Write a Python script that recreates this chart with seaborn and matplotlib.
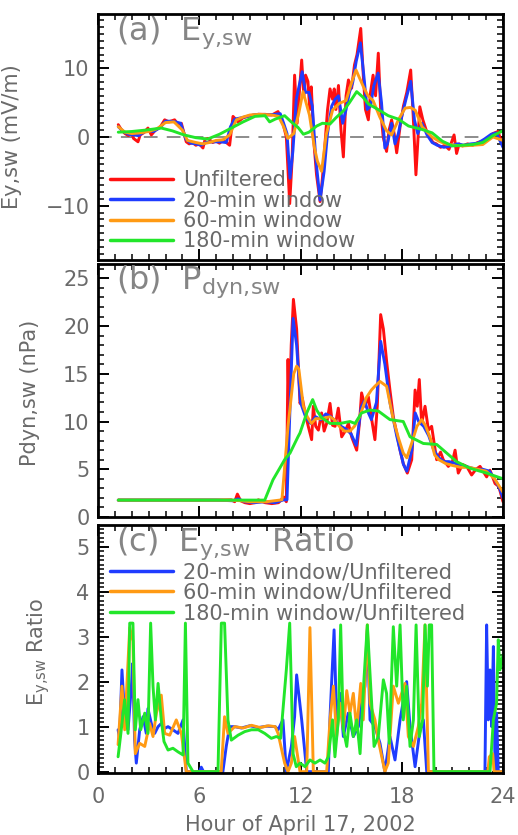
import numpy as np
import pandas as pd
import matplotlib
matplotlib.use("Agg")
import matplotlib.pyplot as plt
from matplotlib.lines import Line2D
from matplotlib.ticker import MultipleLocator
import seaborn as sns

# ---------------- data ----------------
# Panel (a): Ey,sw (mV/m)
ey_unf_t = [1.2, 1.4, 1.6, 1.8, 2.0, 2.1, 2.37, 2.5, 2.7, 2.96, 3.16, 3.4, 3.7, 3.95, 4.2, 4.54, 4.75, 4.94,
            5.23, 5.4, 5.6, 5.8, 6.0, 6.22, 6.35, 6.52, 6.8, 7.0, 7.2, 7.4, 7.6, 7.8, 8.0, 8.3, 8.6, 8.9,
            9.2, 9.5, 9.9, 10.3, 10.67, 10.96, 11.16, 11.36, 11.5, 11.65, 11.8, 12.07, 12.2, 12.3, 12.44,
            12.55, 12.64, 12.8, 12.95, 13.16, 13.3, 13.45, 13.6, 13.75, 13.9, 14.0, 14.1, 14.25, 14.4,
            14.54, 14.7, 14.84, 15.03, 15.2, 15.35, 15.57, 15.72, 15.85, 16.02, 16.15, 16.3, 16.45,
            16.61, 16.75, 16.9, 17.1, 17.25, 17.4, 17.55, 17.7, 17.9, 18.1, 18.3, 18.53, 18.68, 18.84,
            19.07, 19.25, 19.45, 19.65, 19.85, 20.05, 20.3, 20.55, 20.8, 21.1, 21.25, 21.4, 21.6,
            21.9, 22.2, 22.5, 22.8, 23.1, 23.4, 23.7, 24.0]
ey_unf_v = [1.8, 1.0, 0.5, 0.2, 0.7, -0.2, -0.7, 0.3, 0.6, 1.3, 0.3, 1.0, 1.5, 2.5, 2.2, 2.5, 1.8, 2.0,
            -0.7, -1.0, -0.8, -1.2, -1.0, -1.6, -0.3, -0.2, -0.8, -0.6, -0.9, -0.5, -0.8, -1.2, 3.0, 2.2,
            2.8, 3.0, 3.2, 3.3, 3.3, 3.2, 3.7, 2.0, 0.0, -9.7, -3.4, 9.0, 2.0, 11.2, 6.0, 9.0, 8.1, 4.0,
            7.3, -1.0, -5.5, -9.4, -6.0, -1.0, 3.9, 7.0, 5.5, 7.0, 4.0, 7.5, 1.0, -2.9, 6.0, 8.3, 7.1,
            10.5, 12.0, 15.8, 9.0, 4.0, 2.5, 6.5, 9.0, 6.0, 12.2, 4.0, 0.0, -2.1, 1.0, 2.5, 0.5, -2.3,
            1.5, 4.5, 6.5, 9.75, 3.0, -5.5, 4.4, 2.5, 1.0, 0.0, -0.8, -1.0, -1.5, -1.2, -1.8, 0.3, -2.4,
            -1.0, -1.3, -1.0, -1.2, -0.8, -0.6, -0.2, 0.5, 0.8, -1.3]

ey_20_t = [1.2, 1.5, 1.8, 2.1, 2.4, 2.7, 3.0, 3.3, 3.7, 4.0, 4.3, 4.6, 4.9, 5.2, 5.5, 5.8, 6.1, 6.4,
           6.8, 7.2, 7.6, 7.85, 8.1, 8.5, 9.0, 9.5, 10.0, 10.5, 10.8, 11.0, 11.2, 11.38, 11.55, 11.75,
           12.1, 12.3, 12.5, 12.7, 12.9, 13.16, 13.4, 13.6, 13.85, 14.05, 14.25, 14.5, 14.7, 14.9,
           15.1, 15.3, 15.55, 15.75, 15.95, 16.15, 16.35, 16.6, 16.8, 17.0, 17.15, 17.4, 17.6, 17.8,
           18.0, 18.25, 18.53, 18.75, 18.95, 19.2, 19.5, 19.8, 20.1, 20.5, 20.9, 21.3, 21.7, 22.1,
           22.5, 22.9, 23.3, 23.6, 24.0]
ey_20_v = [1.5, 0.8, 0.4, 0.3, 0.2, 0.7, 0.9, 0.8, 1.4, 2.3, 2.3, 2.2, 2.0, -0.3, -0.9, -1.0, -1.2,
           -0.8, -0.7, -0.7, -0.8, 1.5, 2.6, 2.8, 3.1, 3.3, 3.2, 3.3, 3.4, 2.0, 0.5, -6.0, -2.0, 5.5,
           9.5, 6.5, 6.5, 4.5, -3.0, -9.2, -5.0, 0.5, 4.5, 5.5, 6.0, 2.0, 4.0, 6.5, 8.0, 11.0, 13.7,
           9.0, 4.0, 4.5, 7.5, 9.3, 5.0, -1.6, -1.0, 2.0, -1.0, 0.5, 3.0, 5.5, 8.1, 2.5, 0.5, 2.0,
           0.3, -0.8, -1.2, -1.5, -1.3, -1.0, -1.2, -1.0, -0.9, -0.3, 0.4, 0.6, -1.5]

ey_60_t = [1.2, 1.6, 2.0, 2.5, 3.0, 3.5, 4.0, 4.5, 5.0, 5.3, 5.8, 6.2, 6.6, 7.0, 7.4, 7.8, 8.2, 8.6,
           9.0, 9.6, 10.3, 10.7, 11.0, 11.25, 11.6, 11.9, 12.15, 12.53, 12.83, 13.0, 13.25, 13.52,
           13.9, 14.3, 14.7, 15.0, 15.29, 15.73, 16.0, 16.3, 16.7, 17.1, 17.4, 17.8, 18.2, 18.5,
           18.8, 19.2, 19.8, 20.2, 20.6, 21.1, 21.6, 22.2, 22.8, 23.4, 24.0]
ey_60_v = [1.5, 0.7, 0.5, 0.6, 0.8, 1.2, 2.1, 2.2, 1.0, -0.5, -0.8, -1.0, -0.8, -0.5, -0.4, 0.3,
           2.5, 2.9, 3.2, 3.3, 3.2, 3.0, 1.5, -0.2, 0.5, 3.5, 6.6, 3.2, -1.6, -3.5, -5.0, 0.3, 3.9,
           4.9, 5.3, 7.7, 9.75, 7.3, 6.0, 5.3, 2.9, 0.9, 0.3, 2.5, 4.2, 4.3, 3.9, 1.5, 0.0, -0.6,
           -1.0, -1.2, -1.3, -1.2, -1.1, 0.0, -0.5]

ey_180_t = [1.2, 2.0, 2.8, 3.75, 4.4, 5.1, 5.8, 6.5, 7.2, 7.9, 8.6, 9.3, 9.9, 10.17, 10.5, 11.06,
            11.45, 11.85, 12.17, 12.5, 12.96, 13.3, 13.75, 14.1, 14.54, 14.9, 15.33, 15.7, 16.03,
            16.6, 17.2, 17.8, 18.4, 19.2, 19.8, 20.4, 21.0, 21.6, 22.2, 22.8, 23.4, 24.0]
ey_180_v = [0.7, 0.8, 1.0, 1.3, 0.9, 0.3, -0.1, -0.3, 0.4, 1.3, 2.2, 3.0, 3.1, 2.2, 2.6, 3.1, 2.2,
            1.4, 0.4, 0.7, 1.6, 2.0, 1.9, 2.8, 3.8, 5.0, 6.6, 5.8, 4.8, 4.0, 3.1, 2.6, 1.6, 1.1, 0.6,
            -0.6, -1.3, -1.2, -1.1, -0.8, 0.2, 0.9]

# Panel (b): Pdyn,sw (nPa)
pd_unf_t = [1.2, 3.0, 5.0, 7.0, 7.9, 8.1, 8.26, 8.45, 8.7, 9.0, 9.3, 9.5, 9.9, 10.3, 10.7, 11.0,
            11.16, 11.26, 11.33, 11.45, 11.58, 11.77, 11.97, 12.1, 12.27, 12.46, 12.66, 12.76, 12.9,
            13.06, 13.25, 13.4, 13.55, 13.75, 13.9, 14.05, 14.24, 14.44, 14.65, 14.84, 15.03, 15.33,
            15.5, 15.62, 15.82, 16.02, 16.22, 16.41, 16.55, 16.75, 16.91, 17.11, 17.3, 17.5, 17.7,
            17.9, 18.09, 18.33, 18.59, 18.79, 18.92, 19.04, 19.18, 19.38, 19.58, 19.77, 20.07,
            20.3, 20.46, 20.76, 21.0, 21.16, 21.35, 21.6, 21.85, 22.14, 22.4, 22.64, 23.03, 23.23,
            23.53, 23.75, 24.0]
pd_unf_v = [1.77, 1.77, 1.77, 1.77, 1.8, 1.6, 2.4, 1.7, 1.5, 1.4, 1.5, 1.8, 1.5, 1.4, 1.5, 2.1,
            1.6, 16.5, 10.0, 18.0, 22.8, 19.7, 11.9, 12.5, 10.9, 9.5, 8.1, 11.6, 9.5, 9.1, 10.9, 9.0,
            9.8, 11.9, 9.6, 9.5, 11.4, 8.4, 9.0, 9.8, 8.4, 7.0, 10.0, 13.0, 11.6, 12.6, 10.2, 8.1,
            11.6, 21.2, 19.7, 16.2, 13.3, 10.5, 8.8, 7.0, 5.6, 4.6, 6.0, 13.3, 11.6, 14.4, 9.8,
            11.6, 9.1, 9.5, 6.0, 6.8, 6.0, 5.3, 5.8, 7.0, 4.6, 5.5, 5.3, 4.4, 5.0, 5.3, 4.2, 4.9,
            3.5, 3.2, 1.6]

pd_20_t = [1.2, 3.0, 5.0, 7.0, 8.0, 8.3, 8.7, 9.3, 9.9, 10.5, 11.0, 11.2, 11.35, 11.56, 11.77,
           12.0, 12.3, 12.6, 12.9, 13.2, 13.5, 13.8, 14.1, 14.4, 14.7, 15.0, 15.3, 15.6, 15.8, 16.0,
           16.2, 16.5, 16.75, 17.0, 17.3, 17.7, 18.1, 18.3, 18.6, 18.8, 19.0, 19.3, 19.6, 19.9,
           20.2, 20.5, 20.8, 21.2, 21.6, 22.0, 22.4, 22.8, 23.2, 23.5, 23.8, 24.0]
pd_20_v = [1.77, 1.77, 1.77, 1.77, 1.7, 1.9, 1.6, 1.5, 1.6, 1.5, 1.8, 1.8, 10.0, 20.8, 18.0, 12.0,
           10.5, 9.8, 10.5, 10.2, 10.8, 10.5, 10.0, 9.5, 9.2, 8.7, 7.5, 11.5, 12.2, 11.0, 10.2,
           12.0, 18.4, 16.0, 12.0, 8.5, 5.5, 4.8, 7.0, 10.9, 10.0, 9.5, 8.5, 7.0, 6.2, 5.8, 5.8,
           5.6, 5.4, 5.2, 5.0, 5.0, 4.8, 4.0, 3.0, 2.0]

pd_60_t = [1.2, 3.0, 5.0, 7.0, 8.0, 8.5, 9.0, 10.0, 10.9, 11.26, 11.6, 11.77, 11.9, 12.17, 12.4,
           12.65, 12.9, 13.2, 13.75, 14.0, 14.3, 14.6, 14.93, 15.2, 15.5, 15.72, 15.9, 16.2, 16.41,
           16.71, 17.1, 17.5, 17.8, 18.09, 18.3, 18.6, 18.9, 19.18, 19.4, 19.7, 19.95, 20.2, 20.6,
           21.0, 21.5, 22.0, 22.5, 23.0, 23.5, 24.0]
pd_60_v = [1.77, 1.77, 1.77, 1.77, 1.75, 1.7, 1.6, 1.6, 1.8, 9.5, 15.0, 15.8, 15.5, 11.6, 10.5,
           9.8, 10.3, 10.3, 10.5, 10.2, 9.5, 9.0, 9.0, 9.5, 10.5, 11.6, 12.5, 13.3, 13.7, 14.2,
           13.7, 10.2, 8.3, 6.7, 6.2, 7.8, 9.5, 10.2, 9.6, 8.2, 6.5, 6.0, 5.6, 5.4, 5.2, 5.2, 5.0,
           4.8, 4.0, 2.6]

pd_180_t = [1.2, 3.0, 5.0, 7.0, 9.0, 9.88, 10.37, 11.06, 11.38, 11.85, 11.97, 12.37, 12.72, 12.96,
            13.25, 13.75, 14.34, 14.93, 15.23, 15.62, 16.12, 16.61, 17.3, 18.09, 18.49, 19.28,
            20.07, 20.66, 21.25, 22.05, 23.03, 24.0]
pd_180_v = [1.77, 1.77, 1.77, 1.77, 1.77, 1.77, 3.9, 6.0, 6.7, 8.4, 8.8, 10.9, 12.3, 11.2, 10.4,
            9.8, 9.8, 10.0, 9.8, 10.9, 11.2, 11.1, 10.2, 10.0, 8.4, 7.7, 7.6, 6.7, 5.8, 5.1, 4.6,
            4.0]

# Panel (c): Ey,sw ratio (filtered / unfiltered), clipped at 3.3
r20_t = [1.19, 1.28, 1.42, 1.58, 1.78, 1.98, 2.05, 2.17, 2.27, 2.47, 2.67, 2.86, 2.96, 3.16, 3.36,
         3.56, 3.75, 3.95, 4.15, 4.44, 4.74, 5.04, 5.23, 6.0, 6.12, 6.25, 7.4, 7.6, 7.8, 8.1, 8.5,
         9.0, 9.5, 10.0, 10.5, 10.67, 10.96, 11.16, 11.46, 11.65, 11.77, 12.07, 12.37, 13.65,
         13.75, 13.99, 14.14, 14.34, 14.54, 14.83, 15.13, 15.43, 15.62, 15.82, 15.96, 16.12, 16.41,
         16.71, 17.0, 17.3, 17.6, 17.9, 18.29, 18.49, 18.79, 19.08, 19.28, 19.48, 22.93, 23.03,
         23.13, 23.23, 23.33, 23.43, 23.53, 23.62, 23.72, 24.0]
r20_v = [0.93, 0.74, 2.26, 1.22, 0.93, 1.9, 2.4, 0.7, 0.19, 0.93, 1.22, 0.85, 1.4, 1.07, 0.85, 1.0,
         1.07, 0.96, 1.0, 0.93, 0.85, 1.15, 0.0, 0.0, 0.1, 0.0, 0.0, 0.56, 1.0, 1.0, 0.97, 1.02,
         0.98, 1.01, 1.0, 0.93, 1.15, 0.0, 0.56, 1.22, 2.15, 1.15, 0.0, 0.0, 1.22, 3.15, 1.15, 1.74,
         0.78, 1.3, 0.78, 1.0, 1.52, 1.9, 3.15, 1.15, 1.0, 0.63, 0.0, 0.78, 0.26, 1.15, 2.0, 1.0,
         0.11, 0.93, 1.15, 0.0, 0.0, 3.26, 1.15, 2.26, 1.0, 2.78, 0.0, 1.3, 0.0, 0.0]

r60_t = [1.19, 1.42, 1.58, 1.88, 2.07, 2.21, 2.47, 2.77, 3.06, 3.26, 3.46, 3.75, 3.95, 4.25, 4.64,
         4.94, 5.23, 7.3, 7.5, 7.7, 8.1, 8.6, 9.1, 9.6, 10.1, 10.5, 10.67, 11.06, 11.26, 11.46,
         11.65, 11.97, 12.37, 12.56, 12.76, 13.55, 13.75, 13.95, 14.14, 14.34, 14.54, 14.74, 14.93,
         15.13, 15.33, 15.57, 15.72, 15.96, 16.12, 16.41, 16.61, 17.0, 17.2, 17.5, 17.8, 18.19,
         18.39, 18.69, 18.98, 19.18, 19.38, 19.58, 23.1, 23.19, 23.39, 23.47, 24.0]
r60_v = [0.6, 1.9, 0.93, 3.2, 2.9, 0.4, 0.63, 0.56, 1.07, 0.78, 1.3, 1.7, 0.85, 0.81, 1.15, 0.85,
         0.0, 0.0, 1.22, 0.85, 1.0, 0.97, 1.03, 0.98, 1.02, 1.0, 0.85, 0.19, 0.0, 0.19, 0.78, 0.0,
         0.0, 3.2, 0.0, 0.0, 1.15, 1.9, 0.78, 1.52, 0.93, 1.8, 1.3, 1.74, 0.93, 1.96, 1.15, 3.26,
         1.52, 1.15, 0.7, 0.0, 0.19, 1.9, 1.52, 1.96, 0.78, 0.56, 1.0, 1.52, 3.26, 0.0, 0.0, 0.33,
         0.4, 0.0, 0.0]

r180_t = [1.19, 1.38, 1.58, 1.78, 1.88, 2.07, 2.21, 2.37, 2.53, 2.77, 2.96, 3.12, 3.26, 3.4, 3.56,
          3.75, 3.91, 4.15, 4.44, 4.74, 5.04, 5.18, 5.33, 5.63, 7.11, 7.31, 7.5, 7.7, 7.9, 8.3, 8.7,
          9.09, 9.5, 9.88, 10.27, 10.57, 10.82, 10.96, 11.16, 11.36, 11.56, 11.75, 11.97, 12.27,
          12.56, 12.86, 13.16, 13.45, 13.65, 13.9, 14.04, 14.24, 14.38, 14.54, 14.74, 14.93, 15.13,
          15.33, 15.53, 15.76, 15.96, 16.16, 16.36, 16.61, 16.91, 17.1, 17.26, 17.5, 17.7, 17.9,
          18.09, 18.29, 18.49, 18.69, 18.85, 19.04, 19.24, 19.38, 19.52, 19.63, 19.77, 19.91, 23.23,
          23.43, 23.62, 23.72, 23.82, 24.0]
r180_v = [0.33, 0.93, 1.6, 0.85, 3.3, 3.3, 0.93, 1.6, 0.93, 1.3, 0.85, 3.3, 1.9, 1.15, 1.96, 1.15,
          0.67, 0.48, 0.52, 0.44, 0.37, 3.3, 0.19, 0.0, 0.0, 3.3, 3.3, 1.15, 0.7, 0.81, 0.89, 0.93,
          0.93, 0.85, 0.74, 0.78, 0.74, 1.37, 2.26, 3.3, 0.4, 0.11, 0.19, 0.11, 0.26, 0.19, 0.26,
          0.19, 0.33, 1.15, 0.33, 1.15, 3.26, 0.93, 0.56, 1.3, 0.78, 1.15, 0.4, 2.04, 3.26, 1.9,
          0.56, 0.78, 2.04, 1.74, 0.63, 3.22, 1.9, 3.26, 1.15, 1.9, 0.56, 1.15, 3.26, 0.78, 1.15,
          3.26, 1.9, 3.26, 3.26, 0.0, 0.0, 1.15, 1.52, 2.93, 2.26, 2.6]

hour_ticks = [0, 6, 12, 18, 24]
labels_a = ["Unfiltered", "20-min window", "60-min window", "180-min window"]
labels_c = ["20-min window/Unfiltered", "60-min window/Unfiltered", "180-min window/Unfiltered"]

RED, BLUE, ORANGE, GREEN = "#ff1010", "#1f3cff", "#ff9a14", "#22e62a"
TXT = "#6a6a6a"
TTL = "#858585"


def long_df(pairs, names):
    frames = []
    for (t, v), n in zip(pairs, names):
        frames.append(pd.DataFrame({"hour": t, "value": v, "series": n}))
    return pd.concat(frames, ignore_index=True)


df_a = long_df([(ey_unf_t, ey_unf_v), (ey_20_t, ey_20_v), (ey_60_t, ey_60_v), (ey_180_t, ey_180_v)], labels_a)
df_b = long_df([(pd_unf_t, pd_unf_v), (pd_20_t, pd_20_v), (pd_60_t, pd_60_v), (pd_180_t, pd_180_v)], labels_a)
df_c = long_df([(r20_t, r20_v), (r60_t, r60_v), (r180_t, r180_v)], labels_c)

pal_a = dict(zip(labels_a, [RED, BLUE, ORANGE, GREEN]))
pal_c = dict(zip(labels_c, [BLUE, ORANGE, GREEN]))

sns.set_theme(style="white")
plt.rcParams["font.family"] = ["DejaVu Sans"]
plt.rcParams["mathtext.default"] = "regular"

fig = plt.figure(figsize=(5.18, 8.35), dpi=100)
W, H = 518.0, 835.0
L, R = 98.0, 503.0
ax_a = fig.add_axes([L / W, 1 - 260 / H, (R - L) / W, (260 - 14) / H])
ax_b = fig.add_axes([L / W, 1 - 517 / H, (R - L) / W, (517 - 264) / H])
ax_c = fig.add_axes([L / W, 1 - 773 / H, (R - L) / W, (773 - 525) / H])

LW = 2.1
sns.lineplot(data=df_a, x="hour", y="value", hue="series", hue_order=labels_a, palette=pal_a,
             estimator=None, sort=False, linewidth=LW, legend=False, ax=ax_a)
sns.lineplot(data=df_b, x="hour", y="value", hue="series", hue_order=labels_a, palette=pal_a,
             estimator=None, sort=False, linewidth=LW, legend=False, ax=ax_b)
sns.lineplot(data=df_c, x="hour", y="value", hue="series", hue_order=labels_c, palette=pal_c,
             estimator=None, sort=False, linewidth=LW, legend=False, ax=ax_c)

ax_a.axhline(0, color="#6e6e6e", lw=1.1, dashes=(9, 6), zorder=0.5)

ax_a.set_ylim(-17.9, 17.9)
ax_b.set_ylim(0, 26.5)
ax_c.set_ylim(-0.03, 5.48)

for ax, minor_y in [(ax_a, 1), (ax_b, 1), (ax_c, 0.1)]:
    ax.set_xlim(0, 24)
    ax.set_xticks(hour_ticks)
    ax.xaxis.set_minor_locator(MultipleLocator(1))
    ax.yaxis.set_minor_locator(MultipleLocator(minor_y))
    ax.tick_params(which="both", direction="in", top=True, right=True, bottom=True, left=True,
                   colors="black", labelcolor=TXT, labelsize=15)
    ax.tick_params(which="major", length=8, width=1.4)
    ax.tick_params(which="minor", length=4, width=1.1)
    ax.tick_params(axis="y", pad=6)
    ax.tick_params(axis="x", pad=10)
    for s in ax.spines.values():
        s.set_color("black")
        s.set_linewidth(2.0)
    ax.set_xlabel("")

ax_a.set_yticks([-10, 0, 10])
ax_b.set_yticks([0, 5, 10, 15, 20, 25])
ax_c.set_yticks([0, 1, 2, 3, 4, 5])
ax_a.set_xticklabels([])
ax_b.set_xticklabels([])

ax_a.set_ylabel("Ey,sw (mV/m)", fontsize=15, color=TXT)
ax_b.set_ylabel("Pdyn,sw (nPa)", fontsize=15, color=TXT)
ax_c.set_ylabel("E$_{y{,}sw}$ Ratio", fontsize=15, color=TXT)
ax_a.yaxis.set_label_coords(-0.188, 0.5)
ax_b.yaxis.set_label_coords(-0.143, 0.49)
ax_c.yaxis.set_label_coords(-0.114, 0.49)
ax_c.set_xlabel("Hour of April 17, 2002", fontsize=15, color=TXT, labelpad=6)

ax_a.text(0.045, 1.0, "(a)  E$_{y{,}sw}$", transform=ax_a.transAxes, fontsize=23, color=TTL,
          ha="left", va="top")
ax_b.text(0.045, 1.0, "(b)  P$_{dyn{,}sw}$", transform=ax_b.transAxes, fontsize=23, color=TTL,
          ha="left", va="top")
ax_c.text(0.045, 1.0, "(c)  E$_{y{,}sw}$  Ratio", transform=ax_c.transAxes, fontsize=23, color=TTL,
          ha="left", va="top")

hand_a = [Line2D([], [], color=pal_a[n], lw=LW + 0.4) for n in labels_a]
leg = ax_a.legend(hand_a, labels_a, loc="upper left", bbox_to_anchor=(0.03, 0.365), frameon=False,
                  fontsize=15, handlelength=3.0, handletextpad=0.5, labelspacing=0.02,
                  borderpad=0, borderaxespad=0)
for t in leg.get_texts():
    t.set_color(TXT)
hand_c = [Line2D([], [], color=pal_c[n], lw=LW + 0.4) for n in labels_c]
leg = ax_c.legend(hand_c, labels_c, loc="upper left", bbox_to_anchor=(0.03, 0.85), frameon=False,
                  fontsize=15, handlelength=3.0, handletextpad=0.5, labelspacing=0.02,
                  borderpad=0, borderaxespad=0)
for t in leg.get_texts():
    t.set_color(TXT)

fig.savefig("out.png", dpi=100)
